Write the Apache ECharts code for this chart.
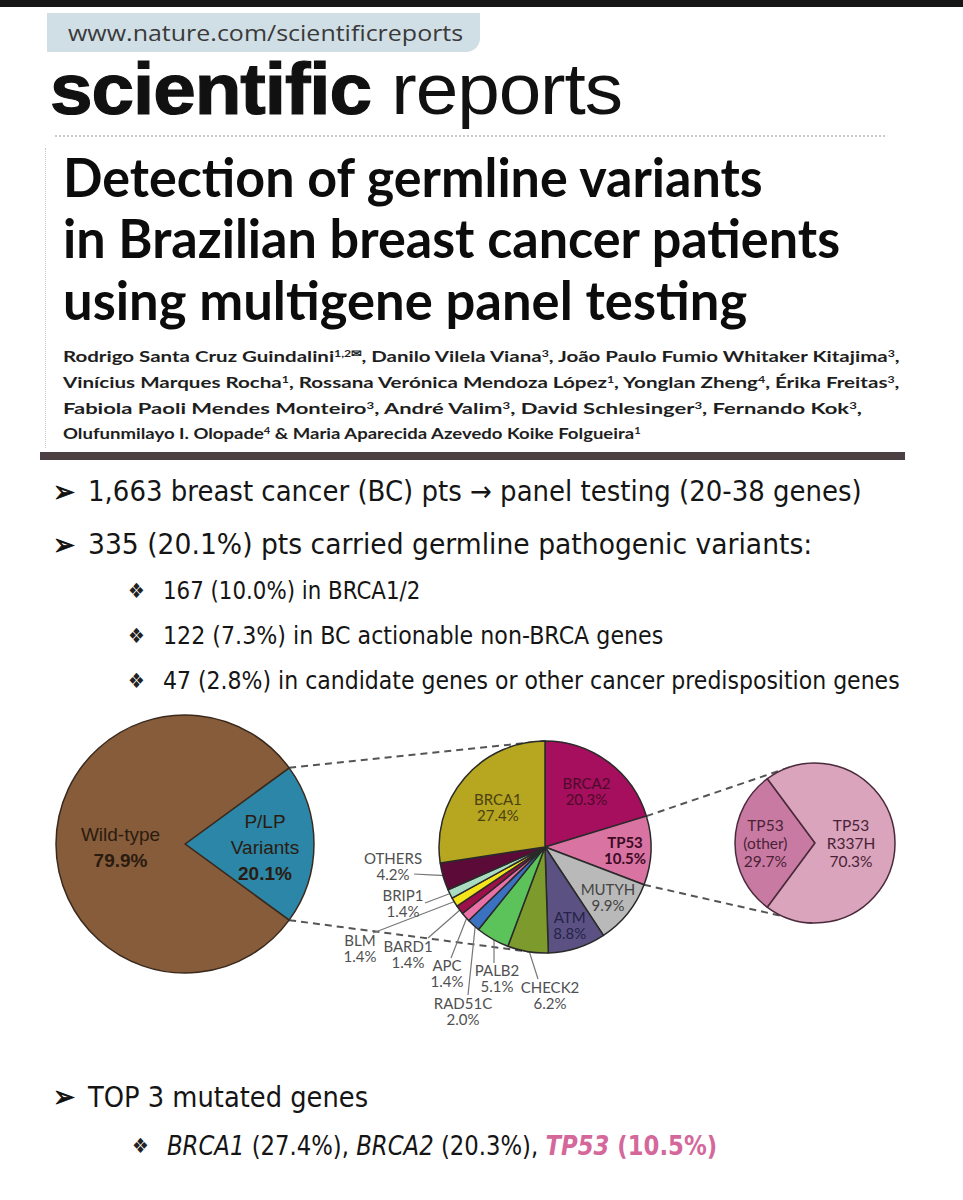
<!DOCTYPE html>
<html>
<head>
<meta charset="utf-8">
<script src="https://cdn.jsdelivr.net/npm/echarts@6/dist/echarts.min.js"></script>
<style>
  html, body { margin: 0; padding: 0; background: #fff; }
  #page { position: relative; width: 963px; height: 1200px; overflow: hidden; background: #fff; }
  #chart { position: absolute; left: 0; top: 0; width: 963px; height: 1200px; }
  .t { position: absolute; white-space: nowrap; transform-origin: 0 50%; color: #111; }
  .topbar { position: absolute; left: 0; top: 0; width: 963px; height: 7px; background: #161616; }
  .urlbox { position: absolute; left: 47px; top: 13px; width: 433px; height: 39px; background: #d0dee5; border-bottom-right-radius: 14px; }
  .url { font-family: "Open Sans", sans-serif; color: #3a3a3a; }
  .brand { font-family: "Liberation Sans", Arial, sans-serif; color: #111; letter-spacing: -1px; }
  .brand b { font-weight: 700; -webkit-text-stroke: 1.2px #111; }
  .dots-h { position: absolute; left: 55px; top: 135px; width: 830px; border-top: 2px dotted #c9c9c9; }
  .dots-v { position: absolute; left: 45px; top: 148px; height: 300px; border-left: 1px dotted #c9c9c9; }
  .title { font-family: Lato, "Open Sans", sans-serif; font-weight: 700; font-size: 53px; line-height: 61px; left: 63px; color: #0c0c0c; }
  .auth { font-family: Lato, "Open Sans", sans-serif; font-weight: 700; font-size: 16px; line-height: 20px; left: 63px; color: #1e1e1e; }
  .auth sup { font-size: 0.6em; vertical-align: 0.5em; line-height: 0; }
  .rule { position: absolute; left: 40px; top: 452px; width: 865px; height: 8px; background: #4b3f42; }
  .bl { font-family: "DejaVu Sans", Verdana, sans-serif; color: #151515; }
  .arrow { font-family: "DejaVu Sans", sans-serif; color: #111; font-weight: 700; -webkit-text-stroke: 0.8px #111; }
  .dia { font-family: "DejaVu Sans", sans-serif; color: #222; }
  .pk { color: #d4689b; font-weight: 700; }
</style>
</head>
<body>
<div id="page">
  <div id="chart"></div>

  <div class="topbar"></div>
  <div class="urlbox"></div>
  <div class="t url" style="left:68px;top:20px;font-size:21px;line-height:26px" data-w="395">www.nature.com/scientificreports</div>
  <div class="t brand" style="left:50px;top:49px;font-size:73px;line-height:80px" data-w="572"><b>scientific</b> reports</div>
  <div class="dots-h"></div>
  <div class="dots-v"></div>

  <div class="t title" style="top:146px" data-w="700">Detection of germline variants</div>
  <div class="t title" style="top:207px" data-w="777">in Brazilian breast cancer patients</div>
  <div class="t title" style="top:269px" data-w="684">using multigene panel testing</div>

  <div class="t auth" style="top:346px" data-w="837">Rodrigo Santa Cruz Guindalini<sup>1,2✉</sup>, Danilo Vilela Viana<sup>3</sup>, João Paulo Fumio Whitaker Kitajima<sup>3</sup>,</div>
  <div class="t auth" style="top:372px" data-w="837">Vinícius Marques Rocha<sup>1</sup>, Rossana Verónica Mendoza López<sup>1</sup>, Yonglan Zheng<sup>4</sup>, Érika Freitas<sup>3</sup>,</div>
  <div class="t auth" style="top:398px" data-w="799">Fabiola Paoli Mendes Monteiro<sup>3</sup>, André Valim<sup>3</sup>, David Schlesinger<sup>3</sup>, Fernando Kok<sup>3</sup>,</div>
  <div class="t auth" style="top:423px" data-w="578">Olufunmilayo I. Olopade<sup>4</sup> &amp; Maria Aparecida Azevedo Koike Folgueira<sup>1</sup></div>

  <div class="rule"></div>

  <div class="t arrow" style="left:53px;top:475px;font-size:30px;line-height:34px" data-w="22">➢</div>
  <div class="t bl" style="left:88px;top:475px;font-size:28px;line-height:34px" data-w="774">1,663 breast cancer (BC) pts → panel testing (20-38 genes)</div>
  <div class="t arrow" style="left:53px;top:528px;font-size:30px;line-height:34px" data-w="22">➢</div>
  <div class="t bl" style="left:88px;top:528px;font-size:28px;line-height:34px" data-w="724">335 (20.1%) pts carried germline pathogenic variants:</div>

  <div class="t dia" style="left:128px;top:576px;font-size:21px;line-height:30px" data-w="17">❖</div>
  <div class="t bl" style="left:163px;top:576px;font-size:25px;line-height:30px" data-w="257">167 (10.0%) in BRCA1/2</div>
  <div class="t dia" style="left:128px;top:621px;font-size:21px;line-height:30px" data-w="17">❖</div>
  <div class="t bl" style="left:163px;top:621px;font-size:25px;line-height:30px" data-w="500">122 (7.3%) in BC actionable non-BRCA genes</div>
  <div class="t dia" style="left:128px;top:666px;font-size:21px;line-height:30px" data-w="17">❖</div>
  <div class="t bl" style="left:163px;top:666px;font-size:25px;line-height:30px" data-w="737">47 (2.8%) in candidate genes or other cancer predisposition genes</div>

  <div class="t arrow" style="left:53px;top:1080px;font-size:30px;line-height:34px" data-w="22">➢</div>
  <div class="t bl" style="left:88px;top:1080px;font-size:29px;line-height:34px" data-w="280">TOP 3 mutated genes</div>
  <div class="t dia" style="left:132px;top:1131px;font-size:21px;line-height:30px" data-w="17">❖</div>
  <div class="t bl" style="left:167px;top:1130px;font-size:26px;line-height:32px" data-w="550"><i>BRCA1</i> (27.4%), <i>BRCA2</i> (20.3%), <span class="pk"><i>TP53</i> (10.5%)</span></div>
</div>

<script>
// overall result of panel testing
const overallNames = ['P/LP Variants', 'Wild-type'];
const overallPct = [20.1, 79.9];
const overallColors = ['#2b86a7', '#875c3a'];

// genes among the P/LP carriers, clockwise from 12 o'clock
const geneNames = ['BRCA2', 'TP53', 'MUTYH', 'ATM', 'CHECK2', 'PALB2', 'RAD51C', 'APC', 'BARD1', 'BLM', 'BRIP1', 'OTHERS', 'BRCA1'];
const genePct = [20.3, 10.5, 9.9, 8.8, 6.2, 5.1, 2.0, 1.4, 1.4, 1.4, 1.4, 4.2, 27.4];
const geneColors = ['#a50f5d', '#d873a2', '#b9b9b9', '#5b5283', '#7d9a2d', '#5cc35a', '#3a71c1', '#ea70a8', '#9d1049', '#f4e41c', '#a9dcc1', '#5c0a38', '#b7a61f'];
const geneLabelColors = ['#4d0a2b', '#3d0a24', '#444444', '#262248', '#505050', '#505050', '#505050', '#505050', '#505050', '#505050', '#505050', '#505050', '#4a4112'];

// TP53 variants
const tp53Names = ['TP53 (other)', 'TP53 R337H'];
const tp53Pct = [29.7, 70.3];
const tp53Colors = ['#c97aa3', '#d9a4bc'];

// geometry of the three pies (page pixels)
const P1 = { c: [185, 844], r: 129 };
const P2 = { c: [545, 847], r: 106 };
const P3 = { c: [815, 843], r: 80 };

// outside labels of the small slices: [label dx, dy, line end dx, dy] from pie 2 centre
const SPOTS = {
  OTHERS: [-152, 19, -131, 27],
  BRIP1: [-142, 56, -120, 56],
  BLM: [-185, 101, -172, 86],
  BARD1: [-137, 107, -117, 91],
  APC: [-98, 126, -94, 111],
  RAD51C: [-82, 164, -77, 148],
  PALB2: [-48, 131, -51, 116],
  CHECK2: [5, 148, -7, 132]
};

function midAngles(vals, start) {
  const tot = vals.reduce((a, b) => a + b, 0);
  let a = start;
  return vals.map(v => { const span = v / tot * 360; const m = a - span / 2; a -= span; return m; });
}
function polar(p, ang, k) {
  const t = ang * Math.PI / 180;
  return [p.c[0] + p.r * k * Math.cos(t), p.c[1] - p.r * k * Math.sin(t)];
}

const start1 = overallPct[0] * 3.6 / 2;
const start2 = 90;
const start3 = 180 + tp53Pct[0] * 3.6 / 2;
const mid1 = midAngles(overallPct, start1);
const mid2 = midAngles(genePct, start2);
const mid3 = midAngles(tp53Pct, start3);

// edges of the TP53 slice in pie 2
const tp53From = start2 - genePct[0] * 3.6;
const tp53To = tp53From - genePct[1] * 3.6;

const dash = { stroke: '#555', lineWidth: 2, lineDash: [7, 5] };
function dashLine(a, b) {
  return { type: 'line', z: 0, shape: { x1: a[0], y1: a[1], x2: b[0], y2: b[1] }, style: dash, silent: true };
}

const chart = echarts.init(document.getElementById('chart'), null, { renderer: 'svg', width: 963, height: 1200 });

chart.setOption({
  animation: false,
  graphic: [
    dashLine(polar(P1, start1, 1), polar(P2, 90, 1)),
    dashLine(polar(P1, -start1, 1), polar(P2, -95, 1)),
    dashLine(polar(P2, tp53From, 1), polar(P3, 106, 1)),
    dashLine(polar(P2, tp53To, 1), polar(P3, -92, 1))
  ],
  series: [
    {
      type: 'pie',
      center: P1.c,
      radius: P1.r,
      startAngle: start1,
      clockwise: true,
      avoidLabelOverlap: false,
      data: overallNames.map((n, i) => ({ name: n, value: overallPct[i], itemStyle: { color: overallColors[i] } })),
      itemStyle: { borderColor: '#3a2a1e', borderWidth: 1.5 },
      emphasis: { disabled: true },
      label: {
        position: 'inside',
        fontFamily: 'Liberation Sans, Arial, sans-serif',
        fontSize: 19,
        lineHeight: 26,
        color: '#2a1b10',
        formatter: p => p.name.split(' ').join('\n') + '\n{b|' + p.value.toFixed(1) + '%}',
        rich: { b: { fontFamily: 'Liberation Sans, Arial, sans-serif', fontSize: 19, lineHeight: 26, fontWeight: 'bold' } }
      },
      labelLine: { show: false },
      labelLayout: p => {
        const xy = polar(P1, mid1[p.dataIndex], overallPct[p.dataIndex] > 50 ? 0.5 : 0.62);
        return { x: xy[0], y: xy[1] + 3, align: 'center', verticalAlign: 'middle' };
      }
    },
    {
      type: 'pie',
      center: P2.c,
      radius: P2.r,
      startAngle: start2,
      clockwise: true,
      avoidLabelOverlap: false,
      data: geneNames.map((n, i) => {
        const inside = !SPOTS[n];
        return {
          name: n,
          value: genePct[i],
          itemStyle: { color: geneColors[i] },
          label: { position: inside ? 'inside' : 'outside', color: geneLabelColors[i], fontWeight: n === 'TP53' ? 'bold' : 'normal' },
          labelLine: { show: !inside }
        };
      }),
      itemStyle: { borderColor: '#2a2a2a', borderWidth: 1.5 },
      emphasis: { disabled: true },
      label: {
        fontFamily: 'Lato, Open Sans, sans-serif',
        fontSize: 15,
        lineHeight: 16,
        formatter: p => p.name + '\n' + p.value.toFixed(1) + '%'
      },
      labelLine: { lineStyle: { color: '#777', width: 1.2 } },
      labelLayout: p => {
        const i = p.dataIndex;
        const s = SPOTS[geneNames[i]];
        if (!s) {
          const xy = polar(P2, mid2[i], 0.86 - 0.01 * genePct[i]);
          return { x: xy[0], y: xy[1], align: 'center', verticalAlign: 'middle' };
        }
        const a = polar(P2, mid2[i], 0.97);
        const e = [P2.c[0] + s[2], P2.c[1] + s[3]];
        const m = [(a[0] + e[0]) / 2, (a[1] + e[1]) / 2];
        return { x: P2.c[0] + s[0], y: P2.c[1] + s[1], align: 'center', verticalAlign: 'middle', labelLinePoints: [a, m, e] };
      }
    },
    {
      type: 'pie',
      center: P3.c,
      radius: P3.r,
      startAngle: start3,
      clockwise: true,
      avoidLabelOverlap: false,
      data: tp53Names.map((n, i) => ({ name: n, value: tp53Pct[i], itemStyle: { color: tp53Colors[i] } })),
      itemStyle: { borderColor: '#4b2a3b', borderWidth: 1.5 },
      emphasis: { disabled: true },
      label: {
        position: 'inside',
        fontFamily: 'Lato, Open Sans, sans-serif',
        fontSize: 15.5,
        lineHeight: 18,
        color: '#4a2236',
        formatter: p => p.name.split(' ').join('\n') + '\n' + p.value.toFixed(1) + '%'
      },
      labelLine: { show: false },
      labelLayout: p => {
        const xy = polar(P3, mid3[p.dataIndex], tp53Pct[p.dataIndex] > 50 ? 0.45 : 0.62);
        return { x: xy[0], y: xy[1], align: 'center', verticalAlign: 'middle' };
      }
    }
  ]
});

// squeeze each text line to the width it has in the slide
function fitLines() {
  document.querySelectorAll('[data-w]').forEach(el => {
    el.style.transform = '';
    const w = el.offsetWidth;
    if (w > 0) el.style.transform = 'scaleX(' + (parseFloat(el.dataset.w) / w) + ')';
  });
}
fitLines();
if (document.fonts && document.fonts.ready) document.fonts.ready.then(fitLines);
</script>
</body>
</html>
